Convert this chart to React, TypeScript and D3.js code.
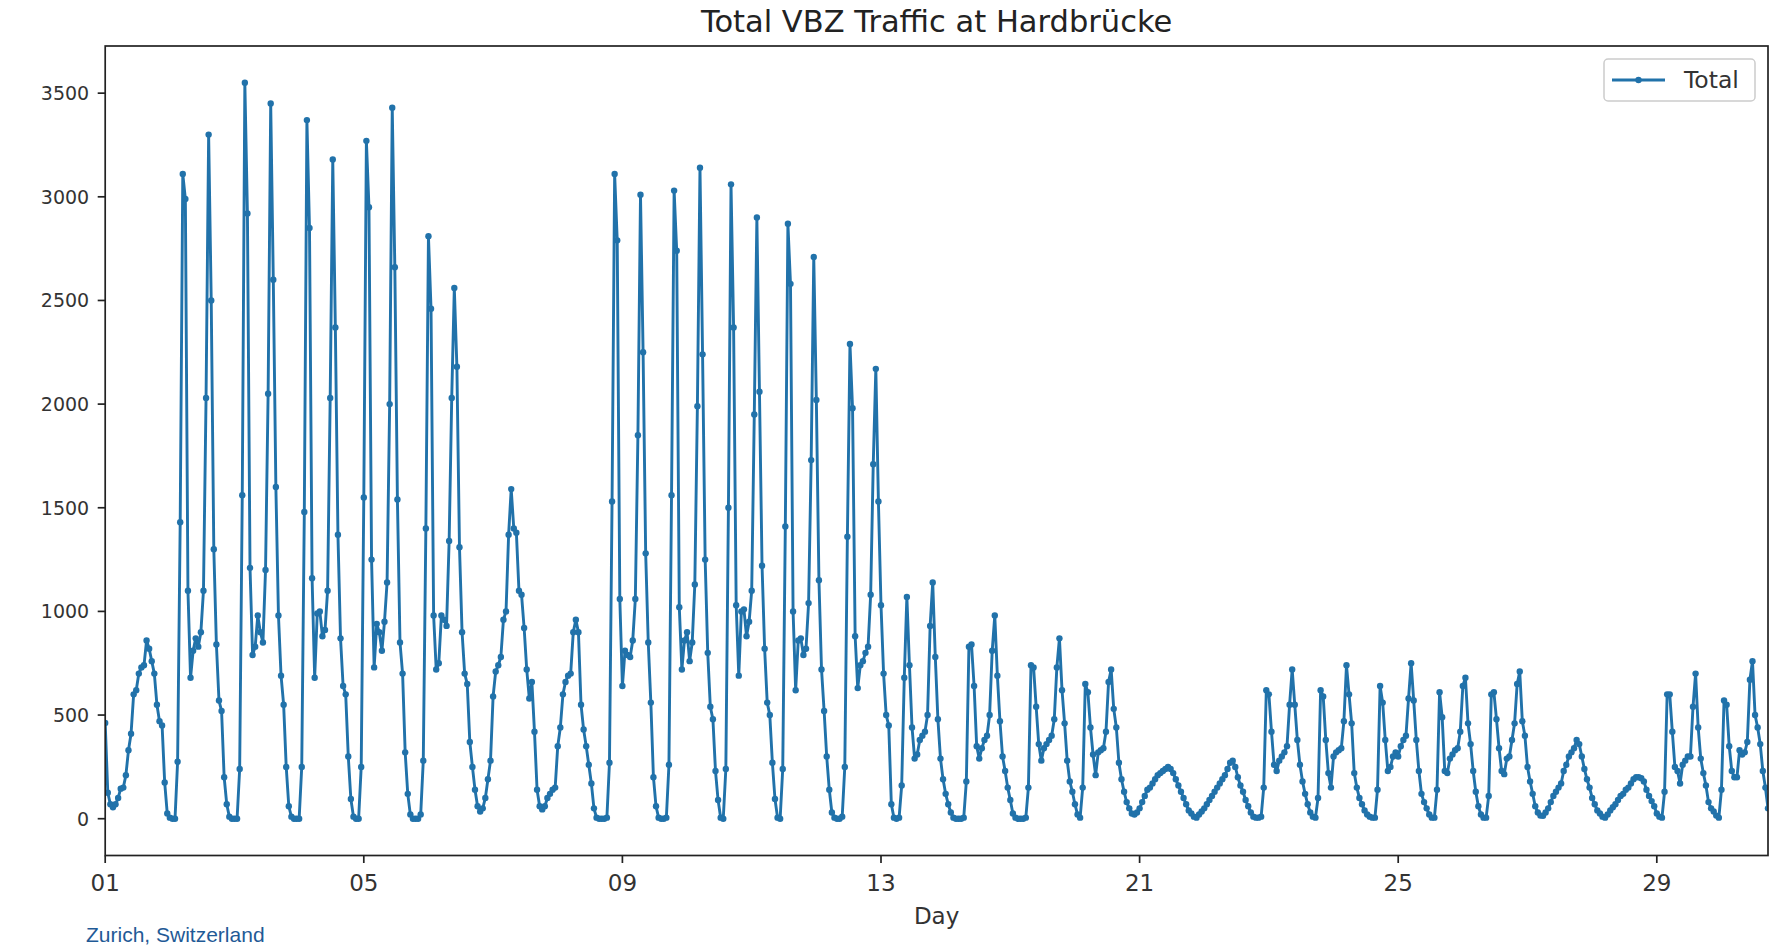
import React from "react";
import * as d3 from "d3";

// Hourly totals, split into blocks of 100 points
const seg0 = [
  462, 125, 70, 55, 70, 100, 145, 150, 210, 330,
  410, 600, 620, 700, 730, 740, 860, 820, 760, 700,
  550, 470, 450, 175, 25, 5, 0, 0, 275, 1430,
  3110, 2990, 1100, 680, 810, 870, 830, 900, 1100, 2030,
  3300, 2500, 1300, 840, 570, 520, 200, 70, 10, 0,
  0, 0, 240, 1560, 3550, 2920, 1210, 790, 830, 980,
  900, 850, 1200, 2050, 3450, 2600, 1600, 980, 690, 550,
  250, 60, 10, 0, 0, 0, 250, 1480, 3370, 2850,
  1160, 680, 990, 1000, 880, 910, 1100, 2030, 3180, 2370,
  1370, 870, 640, 600, 300, 95, 10, 0, 0, 250,
];
const seg1 = [
  1550, 3270, 2950, 1250, 730, 940, 900, 810, 950, 1140,
  2000, 3430, 2660, 1540, 850, 700, 320, 120, 20, 0,
  0, 0, 20, 280, 1400, 2810, 2460, 980, 720, 750,
  980, 960, 930, 1340, 2030, 2560, 2180, 1310, 900, 700,
  650, 370, 250, 140, 60, 35, 50, 100, 190, 280,
  590, 710, 740, 780, 960, 1000, 1370, 1590, 1400, 1380,
  1100, 1080, 920, 720, 580, 660, 420, 140, 60, 45,
  60, 100, 120, 140, 150, 350, 440, 600, 660, 690,
  700, 900, 960, 900, 550, 430, 350, 260, 170, 50,
  5, 0, 0, 0, 5, 270, 1530, 3110, 2790, 1060,
];
const seg2 = [
  640, 810, 790, 780, 860, 1060, 1850, 3010, 2250, 1280,
  850, 560, 200, 60, 5, 0, 0, 5, 260, 1560,
  3030, 2740, 1020, 720, 860, 900, 760, 850, 1130, 1990,
  3140, 2240, 1250, 800, 540, 480, 230, 90, 5, 0,
  240, 1500, 3060, 2370, 1030, 690, 1000, 1010, 880, 950,
  1100, 1950, 2900, 2060, 1220, 820, 560, 500, 270, 95,
  5, 0, 240, 1410, 2870, 2580, 1000, 620, 860, 870,
  790, 820, 1040, 1730, 2710, 2020, 1150, 720, 520, 300,
  140, 30, 5, 0, 0, 10, 250, 1360, 2290, 1980,
  880, 630, 740, 760, 800, 830, 1080, 1710, 2170, 1530,
];
const seg3 = [
  1030, 700, 500, 450, 70, 5, 0, 5, 160, 680,
  1070, 740, 440, 290, 310, 380, 400, 420, 500, 930,
  1140, 780, 480, 290, 190, 120, 70, 30, 5, 0,
  0, 0, 5, 180, 830, 840, 640, 350, 290, 340,
  380, 400, 500, 810, 980, 690, 470, 300, 230, 150,
  90, 25, 5, 0, 0, 0, 5, 150, 740, 730,
  540, 360, 280, 340, 360, 380, 400, 480, 730, 870,
  620, 460, 280, 180, 130, 70, 20, 5, 150, 650,
  610, 440, 310, 210, 320, 330, 340, 420, 660, 720,
  530, 440, 270, 190, 130, 80, 50, 25, 20, 30,
];
const seg4 = [
  50, 80, 110, 140, 150, 170, 190, 210, 220, 230,
  240, 250, 240, 220, 190, 160, 130, 100, 70, 40,
  25, 10, 5, 20, 35, 50, 70, 90, 110, 130,
  150, 170, 190, 210, 240, 270, 280, 250, 200, 160,
  130, 90, 60, 30, 10, 5, 5, 10, 150, 620,
  600, 420, 260, 230, 280, 300, 320, 350, 550, 720,
  550, 380, 260, 180, 120, 70, 30, 10, 5, 100,
  620, 590, 380, 220, 150, 300, 320, 330, 340, 470,
  740, 600, 460, 220, 150, 100, 70, 40, 20, 10,
  5, 5, 140, 640, 560, 380, 230, 250, 300, 320,
];
const seg5 = [
  300, 350, 380, 400, 580, 750, 570, 380, 230, 120,
  80, 50, 20, 5, 5, 140, 610, 490, 230, 220,
  290, 310, 330, 340, 420, 640, 680, 460, 360, 230,
  130, 60, 20, 5, 5, 110, 600, 610, 480, 340,
  230, 215, 290, 300, 380, 460, 650, 710, 470, 400,
  250, 180, 120, 60, 30, 15, 14, 30, 50, 80,
  110, 130, 150, 170, 230, 260, 300, 320, 340, 380,
  360, 300, 240, 190, 150, 100, 70, 40, 25, 10,
  5, 20, 40, 55, 70, 90, 110, 120, 140, 150,
  170, 190, 200, 200, 195, 180, 140, 110, 85, 60,
];
const seg6 = [
  25, 10, 5, 130, 600, 600, 420, 250, 230, 170,
  260, 280, 300, 300, 540, 700, 440, 290, 220, 160,
  80, 50, 35, 15, 5, 140, 570, 550, 350, 230,
  200, 200, 330, 310, 320, 370, 670, 760, 500, 440,
  360, 230, 150, 50,
];

const totals: number[] = [...seg0, ...seg1, ...seg2, ...seg3, ...seg4, ...seg5, ...seg6];

const xTickIndex = [0, 100, 200, 300, 400, 500, 600];
const xTickLabels = ["01", "05", "09", "13", "21", "25", "29"];
const yTicks = [0, 500, 1000, 1500, 2000, 2500, 3000, 3500];

const seriesName = "Total";
const titleText = "Total VBZ Traffic at Hardbrücke";
const xLabel = "Day";
const footer = "Zurich, Switzerland";

export default function App() {
  const W = 1781;
  const H = 947;
  const left = 105.2;
  const right = 1768;
  const top = 46;
  const bottom = 855.5;
  const color = "#2172aa";
  const font = "'DejaVu Sans', sans-serif";
  const tickFont = 23;
  const yTickFont = 19;

  const x = d3.scaleLinear().domain([0, totals.length - 1]).range([left, right]);
  const minV = d3.min(totals) as number;
  const maxV = d3.max(totals) as number;
  const pad = (maxV - minV) * 0.05;
  const y = d3.scaleLinear().domain([minV - pad, maxV + pad]).range([bottom, top]);

  const line = d3
    .line<number>()
    .x((_, i) => x(i))
    .y((d) => y(d));

  const pathD = line(totals) || "";

  return (
    <svg
      width={W}
      height={H}
      style={{ position: "absolute", left: 0, top: 0, display: "block", background: "#fff" }}
    >
      <defs>
        <clipPath id="plotclip">
          <rect x={left} y={top} width={right - left} height={bottom - top} />
        </clipPath>
      </defs>
      <rect x={0} y={0} width={W} height={H} fill="#fff" />

      {/* title */}
      <text x={(left + right) / 2} y={31.5} textAnchor="middle" fontFamily={font} fontSize={30.5} fill="#222">
        {titleText}
      </text>

      {/* data */}
      <g clipPath="url(#plotclip)">
        <path d={pathD} fill="none" stroke={color} strokeWidth={2.9} strokeLinejoin="round" />
        {totals.map((d, i) => (
          <circle key={i} cx={x(i)} cy={y(d)} r={3.2} fill={color} />
        ))}
      </g>

      {/* axes frame */}
      <rect x={left} y={top} width={right - left} height={bottom - top} fill="none" stroke="#222" strokeWidth={1.7} />

      {/* y ticks */}
      {yTicks.map((t) => (
        <g key={"y" + t}>
          <line x1={left - 7.5} x2={left} y1={y(t)} y2={y(t)} stroke="#222" strokeWidth={1.7} />
          <text
            x={left - 16}
            y={y(t)}
            dy="0.36em"
            textAnchor="end"
            fontFamily={font}
            fontSize={yTickFont}
            fill="#333"
          >
            {t}
          </text>
        </g>
      ))}

      {/* x ticks */}
      {xTickIndex.map((t, k) => (
        <g key={"x" + t}>
          <line x1={x(t)} x2={x(t)} y1={bottom} y2={bottom + 7.5} stroke="#222" strokeWidth={1.7} />
          <text x={x(t)} y={891} textAnchor="middle" fontFamily={font} fontSize={tickFont} fill="#333">
            {xTickLabels[k]}
          </text>
        </g>
      ))}

      {/* x label */}
      <text x={(left + right) / 2} y={924} textAnchor="middle" fontFamily={font} fontSize={tickFont} fill="#333">
        {xLabel}
      </text>

      {/* legend */}
      <g>
        <rect x={1604} y={59} width={151} height={42} rx={4} fill="#fff" fillOpacity={0.8} stroke="#cccccc" strokeWidth={1.5} />
        <line x1={1612} x2={1665} y1={80} y2={80} stroke={color} strokeWidth={2.9} />
        <circle cx={1638.5} cy={80} r={3.2} fill={color} />
        <text x={1684} y={88} fontFamily={font} fontSize={23.5} fill="#333">
          {seriesName}
        </text>
      </g>

      {/* footer */}
      <text x={86} y={942} fontFamily="'Liberation Sans', Arial, sans-serif" fontSize={21} fill="#1f5a96">
        {footer}
      </text>
    </svg>
  );
}
